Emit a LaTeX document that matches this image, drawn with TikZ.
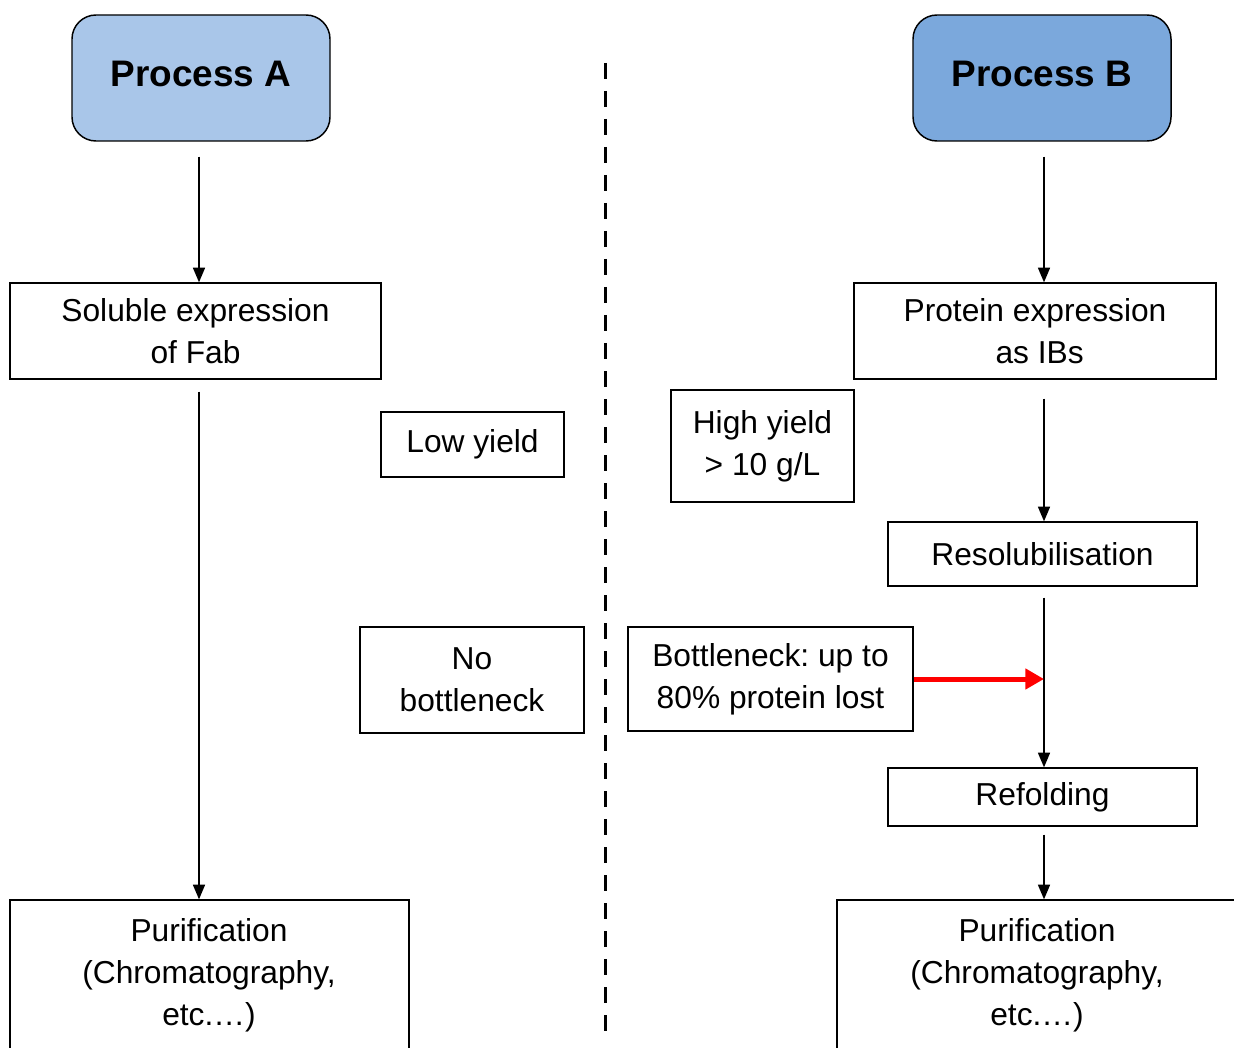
\documentclass[tikz,border=0pt]{standalone}
\usepackage{fontspec}
\setmainfont{Liberation Sans}
\frenchspacing
\usetikzlibrary{arrows.meta,calc}
\definecolor{procA}{HTML}{A9C6E9}
\definecolor{procB}{HTML}{7BA8DC}
\definecolor{redarr}{HTML}{FF0000}
\begin{document}
\begin{tikzpicture}[x=0.75pt,y=-0.75pt,
  box/.style={draw=black,line width=1pt,inner sep=0pt,align=center,
    font=\fontsize{23.8}{31.5}\selectfont},
  proc/.style={draw=black,line width=1.1pt,rounded corners=18pt,inner sep=0pt,
    minimum width=193.5pt,minimum height=94.5pt,
    font=\fontsize{27.7}{33}\selectfont\bfseries},
  txt/.style={inner sep=0pt,align=center,font=\fontsize{23.8}{31.5}\selectfont},
  arr/.style={line width=1.2pt,-{Triangle[length=11pt,width=9pt]}},
  redarrow/.style={draw=redarr,line width=3.75pt,-{Triangle[length=14pt,width=15pt]}},
  divider/.style={line width=2.25pt,dash pattern=on 12pt off 9pt}]
\useasboundingbox (0,0) rectangle (1234,1048);
\clip (0,0) rectangle (1234,1048);
% top process boxes
\node[proc,fill=procA] (pA) at (201,78) {\raisebox{6.5pt}{Process A}};
\node[proc,fill=procB] (pB) at (1042,78) {\raisebox{6.5pt}{Process B}};
% left column
\node[box,minimum width=278.25pt,minimum height=72pt] (sol) at (195.5,331) {Soluble expression\\of Fab};
\node[box,minimum width=137.25pt,minimum height=48.75pt] (low) at (472.5,444.5) {Low yield};
\node[box,minimum width=168pt,minimum height=79.5pt] (nob) at (472,680) {No\\bottleneck};
\node[box,minimum width=299.25pt,minimum height=187.5pt] (purA) at (209.5,1025) {};
\node[txt] (purAt) at (209,975) {Purification\\(Chromatography,\\etc.…)};
% right column
\node[box,minimum width=271.5pt,minimum height=72pt] (prot) at (1035,331) {Protein expression\\\hspace*{7pt}as IBs};
\node[box,minimum width=137.25pt,minimum height=84pt] (high) at (762.5,446) {High yield\\> 10 g/L};
\node[box,minimum width=231.75pt,minimum height=48pt] (resol) at (1042.5,554) {Resolubilisation};
\node[box,minimum width=213.75pt,minimum height=78pt] (bot) at (770.5,679) {Bottleneck: up to\\80\% protein lost};
\node[box,minimum width=231.75pt,minimum height=43.5pt] (refold) at (1042.5,797) {Refolding};
\node[box,minimum width=300pt,minimum height=187.5pt] (purB) at (1037,1025) {};
\node[txt] (purBt) at (1037,975) {Purification\\(Chromatography,\\etc.…)};
% divider
\coordinate (dtop) at (605,63);
\coordinate (dbot) at (605,1032);
\draw[divider] (dtop) -- (dbot);
% arrows left
\draw[arr] ([shift={(-2,15)}]pA.south) coordinate (a1) -- (a1 |- sol.north);
\draw[arr] ([shift={(3.5,12)}]sol.south) coordinate (a2) -- (a2 |- purA.north);
% arrows right
\draw[arr] ([shift={(2,15)}]pB.south) coordinate (b1) -- (b1 |- prot.north);
\draw[arr] ([shift={(9,19)}]prot.south) coordinate (b2) -- (b2 |- resol.north);
\draw[arr] ([shift={(1.5,11)}]resol.south) coordinate (b3) -- (b3 |- refold.north);
\draw[arr] ([shift={(1.5,8)}]refold.south) coordinate (b4) -- (b4 |- purB.north);
\draw[redarrow] (bot.east) -- (bot.east -| b3);
\end{tikzpicture}
\end{document}
